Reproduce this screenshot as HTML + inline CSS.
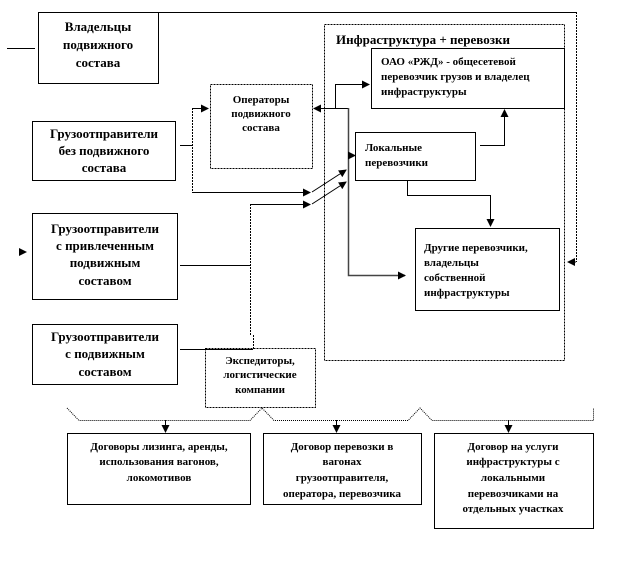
<!DOCTYPE html>
<html><head><meta charset="utf-8"><style>
body{margin:0;background:#fff}
svg text{font-family:"Liberation Serif",serif;font-weight:bold;fill:#000}
</style></head><body>
<svg width="634" height="564" viewBox="0 0 634 564" xmlns="http://www.w3.org/2000/svg">
<defs><marker id="a" markerWidth="8" markerHeight="8" refX="7" refY="4" orient="auto" markerUnits="userSpaceOnUse"><path d="M0,0 L8,4 L0,8 z" fill="#000"/></marker></defs>
<g fill="none" stroke="#000" stroke-width="1">
<rect x="38.5" y="12.5" width="120" height="71"/>
<rect x="32.5" y="121.5" width="143" height="59"/>
<rect x="32.5" y="213.5" width="145" height="86"/>
<rect x="32.5" y="324.5" width="145" height="60"/>
<rect x="210.5" y="84.5" width="102" height="84" stroke-dasharray="2,1"/>
<rect x="324.5" y="24.5" width="240" height="336" stroke-dasharray="2,1"/>
<rect x="371.5" y="48.5" width="193" height="60"/>
<rect x="355.5" y="132.5" width="120" height="48"/>
<rect x="415.5" y="228.5" width="144" height="82"/>
<rect x="205.5" y="348.5" width="110" height="59" stroke-dasharray="2,1"/>
<rect x="67.5" y="433.5" width="183" height="71"/>
<rect x="263.5" y="433.5" width="158" height="71"/>
<rect x="434.5" y="433.5" width="159" height="95"/>
<path d="M7,48.5 H35"/>
<path d="M158,12.5 H576"/>
<path d="M576.5,12 V262" stroke-dasharray="2,1"/>
<path d="M576,262 H568" marker-end="url(#a)"/>
<path d="M180,145.5 H192"/>
<path d="M192.5,108 V192" stroke-dasharray="2,1"/>
<path d="M192,108.5 H208" marker-end="url(#a)"/>
<path d="M192,192.5 H310" marker-end="url(#a)"/>
<path d="M312,192 L346,170" marker-end="url(#a)"/>
<path d="M312,204 L346,182" marker-end="url(#a)"/>
<path d="M180,265.5 H250"/>
<path d="M250.5,204 V335" stroke-dasharray="2,1"/>
<path d="M250,204.5 H310" marker-end="url(#a)"/>
<path d="M180,349.5 H253"/>
<path d="M253.5,335 V349" stroke-dasharray="2,1"/>
<path d="M348,108.5 H314" marker-end="url(#a)"/>
<path d="M335.5,108 V84.5 H369" marker-end="url(#a)"/>
<path d="M348.5,108 V275.5 H405" stroke="#444" stroke-width="1.5" marker-end="url(#a)"/>
<path d="M348,155.5 H355" marker-end="url(#a)"/>
<path d="M480,145.5 H504.5 V110" marker-end="url(#a)"/>
<path d="M407.5,180 V195.5 H490.5 V226" marker-end="url(#a)"/>
<path d="M20,252 H26" marker-end="url(#a)"/>
<path d="M67,408 L79,420.5 H250 L262,408 L274,420.5 H408 L420,408 L432,420.5 H593.5 V408" stroke-dasharray="1,1"/>
<path d="M165.5,420 V432" marker-end="url(#a)"/>
<path d="M336.5,420 V432" marker-end="url(#a)"/>
<path d="M508.5,420 V432" marker-end="url(#a)"/>
</g>
<g text-anchor="middle" font-size="12">
<text x="98" y="31" font-size="13">Владельцы</text><text x="98" y="49" font-size="13">подвижного</text><text x="98" y="67" font-size="13">состава</text>
<text x="104" y="138" font-size="13">Грузоотправители</text><text x="104" y="155" font-size="13">без подвижного</text><text x="104" y="172" font-size="13">состава</text>
<text x="105" y="233" font-size="13">Грузоотправители</text><text x="105" y="250" font-size="13">с привлеченным</text><text x="105" y="267" font-size="13">подвижным</text><text x="105" y="285" font-size="13">составом</text>
<text x="105" y="341" font-size="13">Грузоотправители</text><text x="105" y="358" font-size="13">с подвижным</text><text x="105" y="376" font-size="13">составом</text>
<text x="261" y="103" font-size="11">Операторы</text><text x="261" y="117" font-size="11">подвижного</text><text x="261" y="131" font-size="11">состава</text>
<text x="260" y="364" font-size="11">Экспедиторы,</text><text x="260" y="378" font-size="11">логистические</text><text x="260" y="393" font-size="11">компании</text>
<text x="159" y="450" font-size="11">Договоры лизинга,  аренды,</text><text x="159" y="465" font-size="11">использования вагонов,</text><text x="159" y="481" font-size="11">локомотивов</text>
<text x="342" y="450" font-size="11">Договор перевозки в</text><text x="342" y="465" font-size="11">вагонах</text><text x="342" y="481" font-size="11">грузоотправителя,</text><text x="342" y="497" font-size="11">оператора, перевозчика</text>
<text x="513" y="450" font-size="11">Договор на услуги</text><text x="513" y="465" font-size="11">инфраструктуры с</text><text x="513" y="481" font-size="11">локальными</text><text x="513" y="497" font-size="11">перевозчиками на</text><text x="513" y="512" font-size="11">отдельных  участках</text>
</g>
<g font-size="11">
<text x="336" y="44" font-size="13">Инфраструктура  + перевозки</text>
<text x="381" y="65">ОАО «РЖД» - общесетевой</text><text x="381" y="80">перевозчик грузов и владелец</text><text x="381" y="95">инфраструктуры</text>
<text x="365" y="151">Локальные</text><text x="365" y="166">перевозчики</text>
<text x="424" y="251">Другие перевозчики,</text><text x="424" y="266">владельцы</text><text x="424" y="281">собственной</text><text x="424" y="296">инфраструктуры</text>
</g>
</svg>
</body></html>
